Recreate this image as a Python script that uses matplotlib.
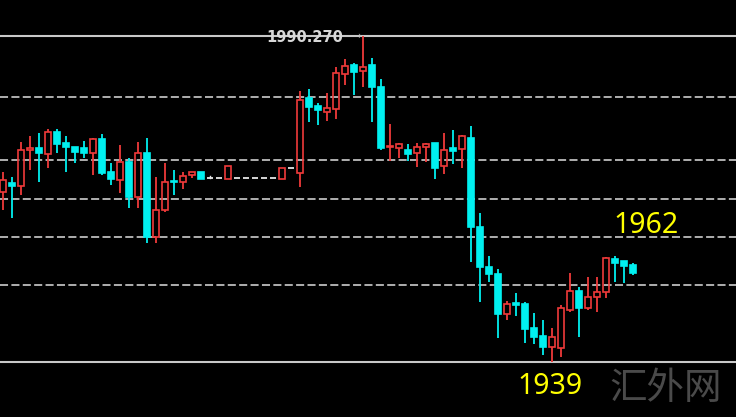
import matplotlib
matplotlib.use('Agg')
import matplotlib.pyplot as plt
from matplotlib.patches import Rectangle

plt.rcParams['lines.scale_dashes'] = False

# ---- data (price values) ----
opens = [1965.73, 1967.15, 1966.68, 1972.34, 1972.65, 1971.71, 1975.17, 1973.44, 1972.81, 1972.65,
         1971.87, 1974.07, 1968.88, 1967.62, 1970.45, 1964.95, 1971.87, 1958.66, 1962.90, 1967.46,
         1967.31, 1968.41, 1968.88, 1967.94, 1967.94, 1967.78, 1967.94, 1967.94, 1967.94, 1967.94,
         1967.94, 1967.78, 1969.51, 1968.72, 1980.52, 1979.26, 1978.32, 1978.79, 1984.29, 1985.71,
         1984.76, 1985.71, 1982.25, 1972.81, 1972.65, 1972.34, 1971.87, 1972.81, 1973.44, 1969.82,
         1972.65, 1972.50, 1974.23, 1960.23, 1953.94, 1952.84, 1946.55, 1948.28, 1948.12, 1944.35,
         1943.09, 1941.36, 1941.20, 1947.18, 1950.16, 1947.49, 1949.22, 1950.01, 1955.20, 1954.88,
         1954.25]
highs = [1968.88, 1968.09, 1973.60, 1974.54, 1975.01, 1975.64, 1975.64, 1974.54, 1972.81, 1973.76,
         1974.23, 1974.86, 1970.29, 1973.13, 1971.08, 1973.60, 1974.23, 1968.09, 1970.29, 1969.19,
         1968.88, 1968.88, 1968.88, 1968.25, 1967.94, 1969.82, 1967.94, 1967.94, 1967.94, 1967.94,
         1967.94, 1969.51, 1969.51, 1981.62, 1981.93, 1979.73, 1981.30, 1985.39, 1986.65, 1986.02,
         1990.27, 1986.81, 1983.51, 1976.43, 1973.44, 1973.28, 1973.44, 1973.44, 1973.44, 1975.01,
         1975.48, 1974.70, 1976.11, 1962.43, 1955.67, 1953.62, 1948.59, 1949.85, 1948.43, 1946.70,
         1945.60, 1944.35, 1947.96, 1953.00, 1950.79, 1952.37, 1952.37, 1955.51, 1955.67, 1954.88,
         1954.57]
lows = [1962.90, 1961.65, 1965.26, 1969.19, 1967.31, 1969.51, 1971.87, 1968.88, 1970.29, 1971.08,
        1968.41, 1968.41, 1966.84, 1965.58, 1963.22, 1963.22, 1957.71, 1957.71, 1962.59, 1965.26,
        1966.21, 1967.94, 1967.78, 1967.94, 1967.94, 1967.78, 1967.94, 1967.94, 1967.94, 1967.94,
        1967.94, 1967.78, 1969.51, 1966.52, 1976.74, 1976.27, 1976.90, 1977.21, 1982.56, 1980.99,
        1982.25, 1976.74, 1972.34, 1970.61, 1971.08, 1970.61, 1969.67, 1970.45, 1967.78, 1968.57,
        1970.14, 1969.51, 1954.73, 1948.43, 1951.58, 1942.77, 1945.60, 1946.23, 1941.99, 1941.83,
        1940.10, 1939.00, 1939.78, 1946.86, 1942.93, 1947.18, 1946.86, 1949.06, 1951.58, 1951.42,
        1952.68]
closes = [1967.62, 1966.68, 1972.34, 1972.65, 1971.87, 1975.17, 1973.28, 1972.81, 1972.02, 1971.87,
          1974.07, 1968.72, 1967.78, 1970.45, 1964.95, 1971.87, 1958.66, 1962.90, 1967.31, 1967.31,
          1968.25, 1968.88, 1967.78, 1967.94, 1967.94, 1969.82, 1967.94, 1967.94, 1967.94, 1967.94,
          1967.94, 1969.51, 1969.51, 1980.20, 1979.10, 1978.63, 1978.94, 1984.45, 1985.55, 1984.61,
          1985.39, 1982.25, 1972.65, 1972.97, 1973.28, 1971.71, 1972.81, 1973.28, 1969.51, 1972.34,
          1972.18, 1974.54, 1960.23, 1953.94, 1952.84, 1946.55, 1948.12, 1947.96, 1944.19, 1942.93,
          1941.36, 1942.93, 1947.49, 1950.16, 1947.49, 1949.22, 1950.01, 1955.35, 1954.57, 1954.10,
          1953.00]

dashed_levels = [1980.68, 1970.77, 1964.63, 1958.66, 1951.11]
solid_levels = [1990.27, 1939.00]
peak_label = "1990.270"
label_high = "1962"
label_low = "1939"
watermark = "汇外网"

# ---- styling ----
UP = '#f03a3a'
DOWN = '#00f0f0'
DOJI = '#e6e6e6'
W = 0.68
WICK = 1.3

fig = plt.figure(figsize=(7.36, 4.17), dpi=100, facecolor='black')
ax = fig.add_axes([0, 0, 1, 1])
ax.set_facecolor('black')
ax.axis('off')
ax.set_xlim(-0.367, 81.41)
ax.set_ylim(1930.35, 1995.93)

for lv in dashed_levels:
    ax.axhline(lv, color='#bdbdbd', lw=1.3, linestyle=(0, (5.8, 2.4)), zorder=1)
for lv in solid_levels:
    ax.axhline(lv, color='#c8c8c8', lw=1.5, zorder=1)

for i, (o, h, l, c) in enumerate(zip(opens, highs, lows, closes)):
    top, bot = max(o, c), min(o, c)
    if c > o:
        ax.plot([i, i], [top, h], color=UP, lw=WICK, zorder=2, solid_capstyle='butt')
        ax.plot([i, i], [l, bot], color=UP, lw=WICK, zorder=2, solid_capstyle='butt')
        ax.add_patch(Rectangle((i - W / 2, bot), W, top - bot, facecolor='none',
                               edgecolor=UP, lw=1.2, zorder=3))
    elif c < o:
        ax.plot([i, i], [l, h], color=DOWN, lw=WICK, zorder=2, solid_capstyle='butt')
        ax.add_patch(Rectangle((i - W / 2, bot), W, top - bot, facecolor=DOWN,
                               edgecolor=DOWN, lw=1.2, zorder=3))
    else:
        if h > o or l < o:
            ax.plot([i, i], [l, h], color=DOJI, lw=1.0, zorder=2)
        ax.plot([i - W / 2, i + W / 2], [o, o], color=DOJI, lw=1.3, zorder=3,
                solid_capstyle='butt')

ytr = ax.get_yaxis_transform()
ax.text(305 / 736, solid_levels[0], peak_label, transform=ytr, ha='center',
        va='center_baseline', fontsize=10.5, fontweight='bold', color='#d8d8d8',
        family='DejaVu Sans', zorder=5)
ax.text(359 / 736, solid_levels[0], '\u203a', transform=ytr, ha='center', va='center',
        fontsize=7, color='#bbbbbb', zorder=5)

ax.text(646 / 736, 1 - 233 / 417, label_high, transform=ax.transAxes, ha='center',
        va='baseline', fontsize=20.5, color='#ffff00', family='Noto Sans', zorder=5)
ax.text(549.5 / 736, 1 - 394 / 417, label_low, transform=ax.transAxes, ha='center',
        va='baseline', fontsize=20.5, color='#ffff00', family='Noto Sans', zorder=5)
ax.text(666 / 736, 1 - 399 / 417, watermark, transform=ax.transAxes, ha='center',
        va='baseline', fontsize=27, color='#4a4a4a',
        family=['Noto Sans CJK SC', 'DejaVu Sans'], zorder=5)

fig.savefig('out.png', dpi=100, facecolor='black')
